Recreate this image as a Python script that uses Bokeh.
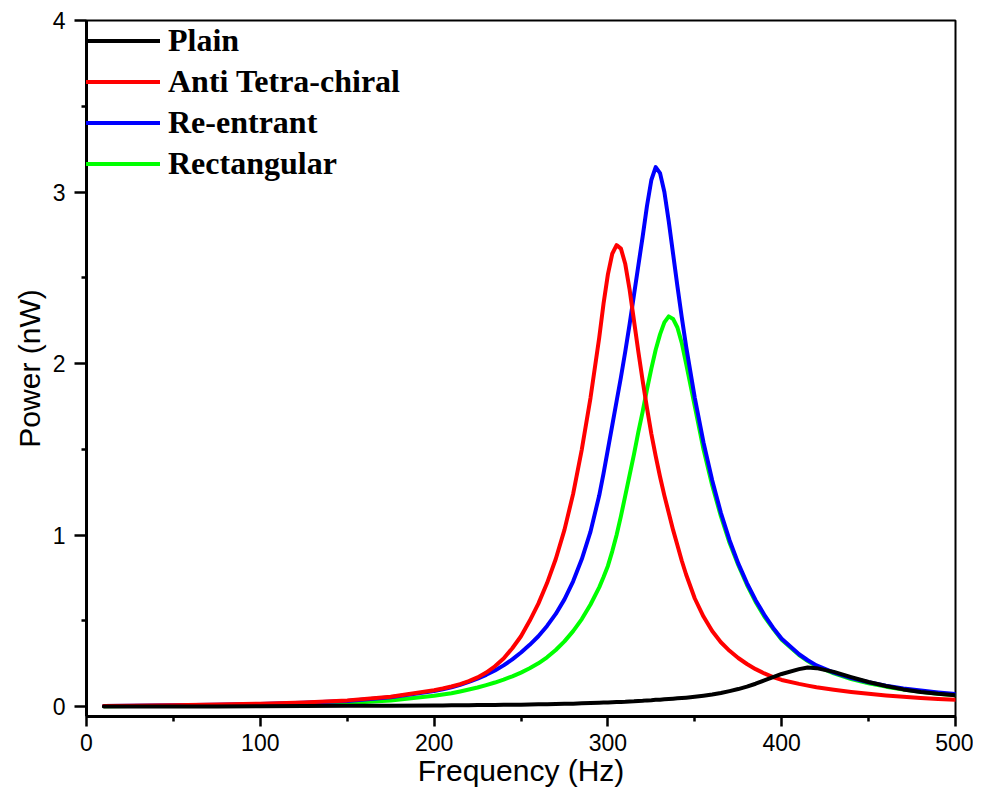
from bokeh.plotting import figure
from bokeh.models import Range1d, FixedTicker, Legend, LegendItem
from bokeh.embed import file_html
from bokeh.resources import INLINE

freq = [10, 25, 50, 75, 100, 125, 150, 175, 200,
        205, 210, 215, 220, 225, 230, 235, 240, 245, 250, 255, 260, 265, 270, 275, 280, 285, 290, 295,
        297.5, 300, 302.5, 305, 307.5, 310, 312.5, 315, 317.5, 320, 322.5, 325, 327.5, 330,
        332.5, 335, 337.5, 340, 342.5, 345,
        350, 355, 360, 365, 370, 375, 380, 385, 390, 395, 400,
        410, 415, 420, 430, 440, 450, 460, 470, 480, 490, 500]

plain = [0.0, 0.0, 0.001, 0.001, 0.002, 0.003, 0.004, 0.005, 0.006,
         0.0065, 0.007, 0.0075, 0.008, 0.0085, 0.009, 0.0095, 0.010, 0.0105, 0.011, 0.012, 0.013,
         0.014, 0.015, 0.016, 0.017, 0.019, 0.020, 0.022,
         0.023, 0.024, 0.025, 0.026, 0.027, 0.028, 0.030, 0.031, 0.033, 0.034, 0.036, 0.037, 0.039,
         0.040, 0.042, 0.044, 0.046, 0.048, 0.050, 0.052,
         0.057, 0.063, 0.070, 0.079, 0.090, 0.102, 0.116, 0.133, 0.152, 0.172, 0.19,
         0.218, 0.228, 0.224, 0.202, 0.172, 0.143, 0.12, 0.1, 0.085, 0.074, 0.066]

anti_tetra = [0.003, 0.005, 0.008, 0.012, 0.017, 0.024, 0.036, 0.057, 0.095,
              0.105, 0.117, 0.131, 0.148, 0.170, 0.198, 0.235, 0.28, 0.34, 0.41, 0.50, 0.60,
              0.72, 0.86, 1.03, 1.24, 1.50, 1.80, 2.15,
              2.35, 2.52, 2.64, 2.69, 2.67, 2.58, 2.43, 2.25, 2.07, 1.90, 1.74, 1.59, 1.46,
              1.34, 1.23, 1.13, 1.03, 0.94, 0.85, 0.77,
              0.63, 0.525, 0.44, 0.375, 0.325, 0.283, 0.248, 0.218, 0.193, 0.172, 0.155,
              0.132, 0.122, 0.113, 0.098, 0.085, 0.074, 0.065, 0.057, 0.05, 0.044, 0.039]

re_entrant = [0.003, 0.005, 0.008, 0.011, 0.015, 0.022, 0.033, 0.054, 0.09,
              0.10, 0.112, 0.127, 0.144, 0.163, 0.185, 0.21, 0.24, 0.275, 0.315, 0.36, 0.41,
              0.47, 0.54, 0.625, 0.73, 0.86, 1.02, 1.23,
              1.36, 1.50, 1.64, 1.78, 1.92, 2.07, 2.23, 2.40, 2.57, 2.74, 2.92, 3.07, 3.145,
              3.11, 3.0, 2.83, 2.64, 2.45, 2.27, 2.10,
              1.80, 1.54, 1.32, 1.13, 0.97, 0.835, 0.72, 0.62, 0.535, 0.46, 0.395,
              0.305, 0.27, 0.24, 0.198, 0.166, 0.142, 0.122, 0.106, 0.093, 0.082, 0.073]

rectangular = [0.002, 0.003, 0.005, 0.007, 0.010, 0.014, 0.021, 0.035, 0.063,
               0.07, 0.078, 0.088, 0.099, 0.111, 0.125, 0.14, 0.157, 0.176, 0.198, 0.223, 0.252,
               0.287, 0.33, 0.38, 0.44, 0.51, 0.595, 0.695,
               0.755, 0.82, 0.905, 1.0, 1.11, 1.23, 1.35, 1.47, 1.60, 1.72, 1.85, 1.97, 2.08,
               2.17, 2.24, 2.275, 2.26, 2.21, 2.12, 2.0,
               1.75, 1.50, 1.29, 1.11, 0.955, 0.825, 0.71, 0.61, 0.525, 0.455, 0.39,
               0.30, 0.265, 0.235, 0.193, 0.16, 0.136, 0.116, 0.099, 0.086, 0.075, 0.066]

series_names = ["Plain", "Anti Tetra-chiral", "Re-entrant", "Rectangular"]
series_colors = ["#000000", "#ff0000", "#0000ff", "#00ff00"]

x_major = [0, 100, 200, 300, 400, 500]
x_minor = [50, 150, 250, 350, 450]
y_major = [0, 1, 2, 3, 4]
y_minor = [0.5, 1.5, 2.5, 3.5]

p = figure(width=973, height=793, output_backend="svg", toolbar_location=None,
           x_range=Range1d(0, 500), y_range=Range1d(-0.058, 4.0),
           min_border_left=86, min_border_right=18, min_border_top=20, min_border_bottom=77)

p.xgrid.visible = False
p.ygrid.visible = False
p.background_fill_color = "white"
p.border_fill_color = "white"
p.outline_line_color = "black"
p.outline_line_width = 2

p.xaxis.ticker = FixedTicker(ticks=x_major, minor_ticks=x_minor)
p.yaxis.ticker = FixedTicker(ticks=y_major, minor_ticks=y_minor)

for ax in (p.xaxis[0], p.yaxis[0]):
    ax.axis_line_width = 3
    ax.axis_line_color = "black"
    ax.major_tick_line_width = 2.5
    ax.minor_tick_line_width = 2.5
    ax.major_tick_in = 0
    ax.minor_tick_in = 0
    ax.minor_tick_out = 5
    ax.major_label_text_font = "Liberation Sans"
    ax.major_label_text_font_size = "23px"
    ax.major_label_text_color = "black"
    ax.axis_label_text_font = "Liberation Sans"
    ax.axis_label_text_font_size = "30px"
    ax.axis_label_text_font_style = "normal"
    ax.axis_label_text_color = "black"

p.xaxis.major_tick_out = 10
p.yaxis.major_tick_out = 12
p.xaxis.major_label_standoff = 7
p.yaxis.major_label_standoff = 9
p.xaxis.axis_label = "Frequency (Hz)"
p.yaxis.axis_label = "Power (nW)"
p.xaxis.axis_label_standoff = 0
p.yaxis.axis_label_standoff = 4

data = {"Plain": plain, "Anti Tetra-chiral": anti_tetra,
        "Re-entrant": re_entrant, "Rectangular": rectangular}

renderers = {}
for name in ["Rectangular", "Re-entrant", "Anti Tetra-chiral", "Plain"]:
    col = series_colors[series_names.index(name)]
    renderers[name] = p.line(freq, data[name], line_color=col, line_width=4,
                             line_join="round", line_cap="round")

legend = Legend(items=[LegendItem(label=n, renderers=[renderers[n]]) for n in series_names],
                location="top_left")
legend.margin = 0
legend.padding = 0
legend.spacing = 0
legend.glyph_width = 74
legend.glyph_height = 41
legend.label_standoff = 8
legend.label_text_font = "Liberation Serif"
legend.label_text_font_style = "bold"
legend.label_text_font_size = "32px"
legend.label_text_color = "black"
legend.border_line_alpha = 0
legend.background_fill_alpha = 0
p.add_layout(legend)

open("out.html", "w").write(file_html(p, INLINE))
